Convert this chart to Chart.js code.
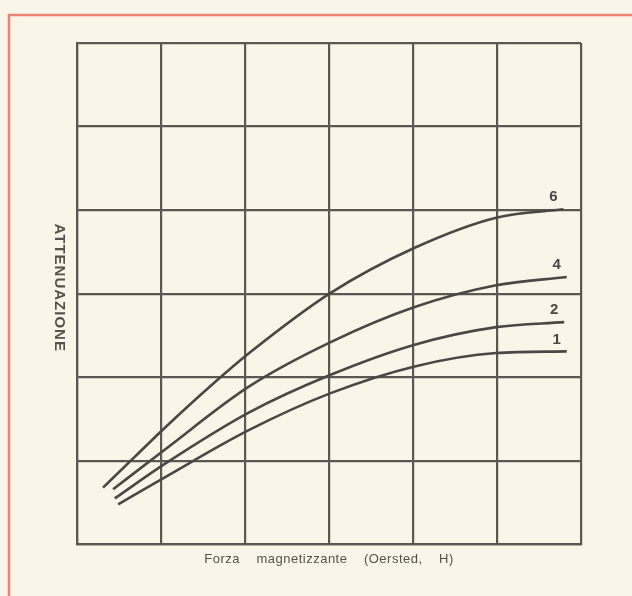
<!DOCTYPE html>
<html>
<head>
<meta charset="utf-8">
<script src="https://cdn.jsdelivr.net/npm/chart.js@4.4.0/dist/chart.umd.min.js"></script>
<style>
  html, body { margin: 0; padding: 0; background: #f9f5e9; }
  #wrap { width: 632px; height: 596px; }
</style>
</head>
<body>
<div id="wrap"><canvas id="myChart" width="632" height="596"></canvas></div>
<script>
// curve names (label at the right end of each curve)
var curveNames = ["6", "4", "2", "1"];

// forza magnetizzante (grid units) / attenuazione (grid units)
var h6   = [0.31, 0.69, 1.04, 1.64, 2.05, 3.02, 4.02, 4.99, 5.79];
var att6 = [0.68, 1.05, 1.39, 1.94, 2.29, 3.01, 3.55, 3.91, 4.01];

var h4   = [0.43, 1.04, 2.05, 3.02, 4.02, 4.99, 5.83];
var att4 = [0.66, 1.13, 1.89, 2.42, 2.84, 3.10, 3.20];

var h2   = [0.45, 1.04, 2.05, 3.02, 4.02, 4.99, 5.80];
var att2 = [0.55, 0.96, 1.58, 2.03, 2.39, 2.60, 2.66];

var h1   = [0.49, 1.04, 2.05, 3.02, 4.02, 4.99, 5.83];
var att1 = [0.48, 0.80, 1.37, 1.81, 2.13, 2.29, 2.31];

var xTitle = "Forza    magnetizzante    (Oersted,    H)";
var yTitle = "ATTENUAZIONE";

var inkColor = "#4a4744";
var gridColor = "#5b5752";

function toPoints(xs, ys) {
    var pts = [];
    for (var i = 0; i < xs.length; i++) {
        pts.push({ x: xs[i], y: ys[i] });
    }
    return pts;
}

var series = [[h6, att6], [h4, att4], [h2, att2], [h1, att1]];

var datasets = series.map(function (s, i) {
    return {
        label: curveNames[i],
        data: toPoints(s[0], s[1]),
        borderColor: inkColor,
        borderWidth: 2.6,
        pointRadius: 0,
        fill: false,
        cubicInterpolationMode: "monotone"
    };
});

// paper background + red frame of the scanned page
var paperPlugin = {
    id: "paper",
    beforeDraw: function (chart) {
        var c = chart.ctx;
        c.save();
        c.fillStyle = "#f9f5e9";
        c.fillRect(0, 0, chart.width, chart.height);
        c.strokeStyle = "#ec8274";
        c.lineWidth = 2.5;
        c.beginPath();
        c.moveTo(9, chart.height);
        c.lineTo(9, 15);
        c.lineTo(chart.width, 15);
        c.stroke();
        c.restore();
        // wider letter spacing for the axis title, like the printed original
        c.letterSpacing = "0.5px";
    }
};

// curve numbers and the vertical axis title (reads top to bottom)
var labelPlugin = {
    id: "curveLabels",
    afterDatasetsDraw: function (chart) {
        var c = chart.ctx;
        var xs = chart.scales.x, ys = chart.scales.y;
        c.save();
        c.letterSpacing = "0px";
        c.fillStyle = inkColor;
        c.font = "bold 15px 'Liberation Sans', Arial, sans-serif";
        c.textAlign = "center";
        c.textBaseline = "middle";
        chart.data.datasets.forEach(function (ds) {
            var last = ds.data[ds.data.length - 1];
            c.fillText(ds.label, xs.getPixelForValue(last.x) - 10, ys.getPixelForValue(last.y) - 12);
        });

        var area = chart.chartArea;
        c.translate(area.left - 18, (area.top + area.bottom) / 2 - 6);
        c.rotate(Math.PI / 2);
        c.fillStyle = "#55514d";
        c.letterSpacing = "1px";
        c.font = "bold 15px 'Liberation Sans', Arial, sans-serif";
        c.fillText(yTitle, 0, 0);
        c.restore();
    }
};

var ctx = document.getElementById("myChart").getContext("2d");

var myChart = new Chart(ctx, {
    type: "line",
    data: { datasets: datasets },
    options: {
        responsive: false,
        animation: false,
        layout: {
            padding: { left: 77, right: 51, top: 43, bottom: 25 }
        },
        plugins: {
            legend: { display: false },
            tooltip: { enabled: false }
        },
        scales: {
            x: {
                type: "linear",
                min: 0,
                max: 6,
                ticks: { display: false, stepSize: 1 },
                grid: { color: gridColor, lineWidth: 2.2, drawTicks: false },
                border: { color: gridColor, width: 2.2 },
                title: {
                    display: true,
                    text: xTitle,
                    color: "#55514d",
                    font: { family: "'Liberation Sans', Arial, sans-serif", size: 13 },
                    padding: { top: 7, bottom: 4 }
                }
            },
            y: {
                type: "linear",
                min: 0,
                max: 6,
                ticks: { display: false, stepSize: 1 },
                grid: { color: gridColor, lineWidth: 2.2, drawTicks: false },
                border: { color: gridColor, width: 2.2 }
            }
        }
    },
    plugins: [paperPlugin, labelPlugin]
});
</script>
</body>
</html>
